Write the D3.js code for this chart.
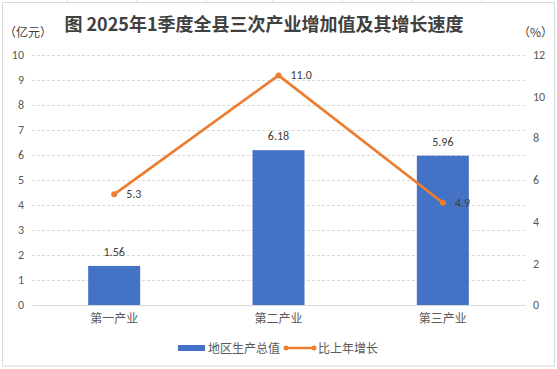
<!DOCTYPE html>
<html><head><meta charset="utf-8">
<script src="https://cdn.jsdelivr.net/npm/d3@7"></script>
<style>body{margin:0;background:#fff}svg{display:block}text{font-family:"Microsoft YaHei","Noto Sans CJK SC","DejaVu Sans",sans-serif}</style>
</head><body>
<script>
const categories = ["第一产业", "第二产业", "第三产业"];
const gdpValues = [1.56, 6.18, 5.96];
const growthValues = [5.3, 11.0, 4.9];
const leftTicks = [0,1,2,3,4,5,6,7,8,9,10];
const rightTicks = [0,2,4,6,8,10,12];
const title = "图 2025年1季度全县三次产业增加值及其增长速度";
const seriesNames = ["地区生产总值", "比上年增长"];

(function(){
const W = 557, H = 369;
const svg = d3.select("body").append("svg").attr("width", W).attr("height", H);

// spreadsheet background grid hints
const colX = [67,137,206,273,342,412,480];
svg.selectAll("line.cg").data(colX).enter().append("line")
  .attr("x1", d=>d).attr("x2", d=>d).attr("y1", 0).attr("y2", 3)
  .attr("stroke", "#e0e0e0");
svg.append("rect").attr("x", 2.5).attr("y", 2.5).attr("width", 552).attr("height", 363.5)
  .attr("fill", "#fff").attr("stroke", "#d9d9d9");

const pl = 32, pr = 525, pt = 54.5, pb = 305;
const x = d3.scaleBand().domain(categories).range([pl, pr]).paddingInner(0).paddingOuter(0);
const yL = d3.scaleLinear().domain([0, 10]).range([pb, pt]);
const yR = d3.scaleLinear().domain([0, 12]).range([pb, pt]);

// gridlines
svg.append("g").selectAll("line").data(leftTicks.filter(d=>d>0)).enter().append("line")
  .attr("x1", pl).attr("x2", pr).attr("y1", d=>Math.round(yL(d))+0.5).attr("y2", d=>Math.round(yL(d))+0.5)
  .attr("stroke", "#d9d9d9").attr("stroke-dasharray", "3,2");

const numFont = "Calibri,Carlito,'Liberation Sans',sans-serif";
// left axis
const axL = svg.append("g").attr("transform", `translate(${pl},0)`)
  .call(d3.axisLeft(yL).tickValues(leftTicks).tickSize(0).tickPadding(8));
axL.select(".domain").remove();
axL.selectAll("text").attr("fill", "#595959").style("font-size", "12px").style("font-family", numFont);

const axR = svg.append("g").attr("transform", `translate(${pr},0)`)
  .call(d3.axisRight(yR).tickValues(rightTicks).tickSize(0).tickPadding(8));
axR.select(".domain").remove();
axR.selectAll("text").attr("fill", "#595959").style("font-size", "12px").style("font-family", numFont);

// bottom axis
const axB = svg.append("g").attr("transform", `translate(0,${pb})`)
  .call(d3.axisBottom(x).tickSize(0).tickPadding(9));
axB.select(".domain").attr("stroke", "#d9d9d9").attr("stroke-width", 1);
axB.selectAll("text").attr("fill", "#595959").style("font-size", "12px");

// bars
const bw = 52;
svg.append("g").selectAll("rect").data(gdpValues).enter().append("rect")
  .attr("x", (d,i)=>x(categories[i]) + x.bandwidth()/2 - bw/2)
  .attr("width", bw)
  .attr("y", d=>yL(d)).attr("height", d=>pb - yL(d))
  .attr("fill", "#4472C4");
svg.append("g").selectAll("text").data(gdpValues).enter().append("text")
  .attr("x", (d,i)=>x(categories[i]) + x.bandwidth()/2)
  .attr("y", d=>yL(d) - 10)
  .attr("text-anchor", "middle").attr("fill", "#404040").style("font-size", "12px")
  .style("font-family", numFont)
  .text(d=>d.toFixed(2));

// line
const cx = (i)=>x(categories[i]) + x.bandwidth()/2;
const line = d3.line().x((d,i)=>cx(i)).y(d=>yR(d));
svg.append("path").datum(growthValues).attr("d", line)
  .attr("fill", "none").attr("stroke", "#ED7D31").attr("stroke-width", 2.75).attr("stroke-linejoin","round");
svg.append("g").selectAll("circle").data(growthValues).enter().append("circle")
  .attr("cx", (d,i)=>cx(i)).attr("cy", d=>yR(d)).attr("r", 3).attr("fill", "#ED7D31");
svg.append("g").selectAll("text").data(growthValues).enter().append("text")
  .attr("x", (d,i)=>cx(i) + 12)
  .attr("y", d=>yR(d) + 4)
  .attr("fill", "#404040").style("font-size", "12px")
  .style("font-family", numFont)
  .text(d=>d.toFixed(1));

// title & unit labels
svg.append("text").attr("x", 264).attr("y", 31).attr("text-anchor", "middle")
  .attr("fill", "#404040").style("font-size", "18px").style("font-weight", "bold").text(title);
svg.append("text").attr("x", 4).attr("y", 37).attr("fill", "#404040").style("font-size", "12px").text("（亿元）");
svg.append("text").attr("x", 518).attr("y", 37).attr("fill", "#404040").style("font-size", "12px").text("（%）");

// legend
const lg = svg.append("g");
lg.append("rect").attr("x", 178).attr("y", 345).attr("width", 27).attr("height", 6).attr("fill", "#4472C4");
lg.append("text").attr("x", 208).attr("y", 353).attr("fill", "#595959").style("font-size", "12px").text(seriesNames[0]);
lg.append("line").attr("x1", 286).attr("x2", 314).attr("y1", 348).attr("y2", 348).attr("stroke", "#ED7D31").attr("stroke-width", 2.5);
lg.append("circle").attr("cx", 286).attr("cy", 348).attr("r", 2.5).attr("fill", "#ED7D31");
lg.append("circle").attr("cx", 314).attr("cy", 348).attr("r", 2.5).attr("fill", "#ED7D31");
lg.append("text").attr("x", 318).attr("y", 353).attr("fill", "#595959").style("font-size", "12px").text(seriesNames[1]);
})();
</script>
</body></html>
